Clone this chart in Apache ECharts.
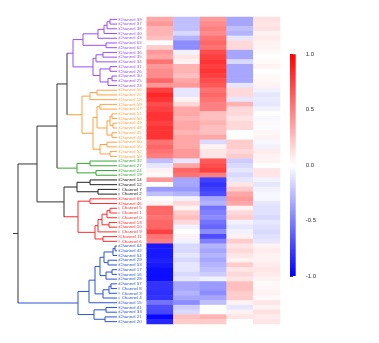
<!DOCTYPE html>
<html><head><meta charset="utf-8">
<script src="https://cdn.jsdelivr.net/npm/echarts@6/dist/echarts.min.js"></script>
<style>html,body{margin:0;padding:0;background:#fff}#c{width:379px;height:343px}</style>
</head><body><div id="c"></div>
<script>
// leaf order (top to bottom)
const channels = [39,37,38,40,43,63,62,36,35,34,31,26,30,25,23,
  56,22,18,59,47,51,50,49,48,45,44,60,55,52,58,
  32,27,24,19,
  14,12,7,2,
  61,46,5,1,0,13,10,9,11,6,
  64,42,54,29,53,17,16,28,57,8,3,4,15,41,33,21,20];
const labels = channels.map(n => 'Channel ' + n);
const clusterSizes = [15, 15, 4, 4, 10, 17];
const clusterColors = ['#9b4ff0', '#ffa040', '#33a833', '#222222', '#ff2a2a', '#2a55d5'];
const aboveColor = '#333333';
const columns = ['C1', 'C2', 'C3', 'C4', 'C5'];

const col1 = [0.35,0.4,0.3,0.3,0.25,0.0,0.2,0.4,0.35,0.55,0.4,0.45,0.45,0.6,0.4,
  0.75,0.85,0.8,0.7,0.75,0.8,0.8,0.75,0.8,0.8,0.8,0.55,0.6,0.55,0.5,
  -0.25,-0.1,0.05,0.02,
  0.4,0.0,-0.4,-0.25,
  0.0,0.05,0.6,0.6,0.55,0.6,0.6,0.75,0.55,0.5,
  -0.9,-0.9,-0.9,-0.88,-0.9,-0.95,-0.95,-0.95,-0.8,-0.8,-0.82,-0.8,-0.55,-0.7,-0.72,-0.97,-0.85];
const col2 = [-0.25,-0.25,-0.25,-0.15,-0.3,-0.45,-0.45,-0.05,0.1,0.05,0.3,0.3,0.25,0.35,0.4,
  -0.1,-0.1,0.05,0.15,0.35,0.35,0.3,0.35,0.35,0.3,0.35,0.35,0.35,0.4,0.4,
  -0.1,0.35,0.6,0.55,
  -0.35,-0.35,-0.4,-0.3,
  -0.05,0.15,0.05,0.2,0.25,0.15,-0.05,0.0,0.05,-0.05,
  -0.15,-0.15,-0.1,-0.15,-0.1,-0.1,-0.15,-0.1,-0.35,-0.35,-0.3,-0.35,-0.45,-0.2,-0.15,0.25,0.2];
const col3 = [0.4,0.45,0.5,0.45,0.55,0.6,0.55,0.7,0.75,0.8,0.75,0.8,0.75,0.7,0.65,
  0.55,0.6,0.55,0.5,0.5,0.25,0.25,0.3,0.25,0.25,0.35,-0.15,0.05,0.1,0.1,
  0.65,0.7,0.75,0.5,
  -0.75,-0.8,-0.75,-0.7,
  -0.35,-0.3,-0.55,-0.5,-0.45,-0.55,-0.6,-0.45,-0.7,-0.5,
  -0.3,-0.35,-0.3,-0.35,-0.3,-0.25,-0.2,-0.05,-0.4,-0.4,-0.45,-0.35,-0.25,0.0,0.0,0.3,0.2];
const col4 = [-0.35,-0.35,-0.25,-0.3,-0.1,0.15,0.15,-0.35,-0.35,-0.15,-0.35,-0.35,-0.35,-0.35,-0.1,
  0.15,0.15,-0.1,0.3,0.15,0.15,0.1,0.15,0.15,0.0,0.0,0.2,0.2,0.15,0.2,
  -0.2,-0.15,-0.1,-0.15,
  -0.1,0.1,0.2,0.35,
  0.4,0.35,0.05,0.15,0.2,-0.05,-0.1,-0.05,0.05,0.2,
  0.1,0.15,0.1,0.05,0.2,0.1,0.15,0.1,0.25,0.25,0.2,0.2,0.05,-0.1,0.05,0.1,0.0];
const col5 = [0.12,0.1,0.12,0.05,0.08,0.05,0.05,0.02,0.0,0.02,0.05,0.0,0.02,0.03,0.05,
  -0.05,-0.1,-0.08,-0.1,-0.05,0.0,-0.03,0.02,-0.02,0.03,0.05,-0.03,-0.05,0.08,0.05,
  0.05,0.0,0.1,0.1,
  -0.05,-0.1,-0.05,-0.03,
  -0.03,-0.1,-0.12,-0.12,-0.15,-0.1,-0.12,-0.15,-0.12,-0.1,
  0.05,0.08,0.05,0.05,0.08,0.1,0.08,0.05,0.02,0.03,0.05,0.02,0.1,0.05,0.12,0.08,0.1];

// dendrogram: [mergeHeight, left, right]; numbers are leaf positions
const tree =
[9.9,
  [8.0,
    [6.0,
      [5.0,
        [4.4,
          [3.4, [1.9,[1.3,[1.0,[0.7,0,1],2],3],4], [1.1,5,6]],
          [2.4, [2.1,[1.4,7,8],9], [1.7,[0.7,10,11],[0.9,[0.5,12,13],14]]]
        ],
        [3.5,
          [2.7,[2.0,15,16],17],
          [2.4, [2.0,[1.7,18,19],[1.0,[0.7,[0.5,20,21],[0.4,22,23]],[0.5,24,25]]], [1.7,[1.0,26,27],[0.7,28,29]]]
        ]
      ],
      [4.0,[2.7,30,31],[2.1,32,33]]
    ],
    [5.3,
      [4.0,[2.7,34,35],[1.9,36,37]],
      [3.9,[2.7,38,39],[2.2,[1.9,[1.5,[1.0,[0.7,40,41],42],[0.8,43,44]],45],[1.4,46,47]]]
    ]
  ],
  [3.9,
    [2.8,[2.2,[1.7,[1.3,[0.4,[0.2,48,49],50],[0.9,51,52]],[1.1,[0.5,53,54],55]],[1.4,[0.8,[0.6,56,57],58],59]],60],
    [2.3,[1.1,61,62],[1.2,63,64]]
  ]
];
const rootStubTo = 10.4;
const colorbarTicks = [-1, -0.5, 0, 0.5, 1];

// ---------- build ----------
const leafColor = [];
clusterSizes.forEach((n, k) => { for (let i = 0; i < n; i++) leafColor.push(clusterColors[k]); });
const labelColor = {};
labels.forEach((l, i) => labelColor[l] = leafColor[i]);

const segs = [], segColors = [], segAlpha = [];
function addSeg(x1, y1, x2, y2, c, a) { segs.push([x1, y1, x2, y2]); segColors.push(c); segAlpha.push(a == null ? 1 : a); }
function build(node) {
  if (typeof node === 'number') return { y: node, h: 0, c: leafColor[node] };
  const L = build(node[1]), R = build(node[2]), h = node[0];
  const c = (L.c === R.c) ? L.c : aboveColor;
  addSeg(L.h, L.y, h, L.y, L.c);
  addSeg(R.h, R.y, h, R.y, R.c);
  addSeg(h, L.y, h, R.y, c);
  return { y: (L.y + R.y) / 2, h: h, c: c };
}
const root = build(tree);
addSeg(root.h, root.y, rootStubTo, root.y, aboveColor);
leafColor.forEach((c, i) => addSeg(-0.2, i - 0.25, -0.2, i + 0.25, c, 0.55));

const heatData = [];
[col1, col2, col3, col4, col5].forEach((col, j) => col.forEach((v, i) => heatData.push([j, i, v])));

const chart = echarts.init(document.getElementById('c'), null, { renderer: 'canvas' });
const font = 'Liberation Sans, Arial, Helvetica, sans-serif';
chart.setOption({
  animation: false,
  backgroundColor: '#ffffff',
  grid: [
    { left: 13, top: 17, width: 106, height: 307 },
    { left: 146.7, top: 17, width: 133.3, height: 307 },
    { left: 290, top: 54.3, width: 5.7, height: 221.7 }
  ],
  xAxis: [
    { gridIndex: 0, type: 'value', min: -0.2, max: 10.4, inverse: true, show: false },
    { gridIndex: 1, type: 'category', data: columns, show: false },
    { gridIndex: 2, type: 'value', min: 0, max: 1, show: false }
  ],
  yAxis: [
    { gridIndex: 0, type: 'value', min: -0.5, max: 64.5, inverse: true, show: false },
    { gridIndex: 1, type: 'category', data: labels, inverse: true,
      axisLine: { show: false }, axisTick: { show: false }, splitLine: { show: false },
      axisLabel: { interval: 0, fontSize: 4.4, fontFamily: font, margin: 5,
        color: (v) => labelColor[v] } },
    { gridIndex: 2, type: 'value', min: -1, max: 1, interval: 0.5, position: 'right',
      axisLine: { show: false }, splitLine: { show: false },
      axisTick: { show: true, length: 3, lineStyle: { color: '#444', width: 1 } },
      axisLabel: { fontSize: 6, fontFamily: font, color: '#333', margin: 10,
        formatter: v => v.toFixed(1) } }
  ],
  visualMap: {
    type: 'continuous', min: -1, max: 1, show: false, seriesIndex: 1,
    inRange: { color: ['#0000ff', '#ffffff', '#ff0000'] }
  },
  series: [
    {
      type: 'custom', xAxisIndex: 0, yAxisIndex: 0, data: segs, silent: true,
      encode: { x: [0, 2], y: [1, 3] },
      renderItem: (params, api) => {
        const p1 = api.coord([api.value(0), api.value(1)]);
        const p2 = api.coord([api.value(2), api.value(3)]);
        return { type: 'line', shape: { x1: p1[0], y1: p1[1], x2: p2[0], y2: p2[1] },
          style: { stroke: segColors[params.dataIndex], lineWidth: 1, opacity: segAlpha[params.dataIndex] } };
      }
    },
    {
      type: 'heatmap', xAxisIndex: 1, yAxisIndex: 1, data: heatData, silent: true,
      itemStyle: { borderWidth: 0 }, emphasis: { disabled: true }
    },
    {
      type: 'custom', xAxisIndex: 2, yAxisIndex: 2, silent: true,
      data: [[0, colorbarTicks[4], 1, colorbarTicks[0]]],
      encode: { x: [0, 2], y: [1, 3] },
      renderItem: (params, api) => {
        const p1 = api.coord([api.value(0), api.value(1)]);
        const p2 = api.coord([api.value(2), api.value(3)]);
        return { type: 'rect', shape: { x: p1[0], y: p1[1], width: p2[0] - p1[0], height: p2[1] - p1[1] },
          style: { fill: new echarts.graphic.LinearGradient(0, 0, 0, 1, [
            { offset: 0, color: '#ff0000' }, { offset: 0.5, color: '#ffffff' }, { offset: 1, color: '#0000ff' }]) } };
      }
    }
  ]
});
</script>
</body></html>
